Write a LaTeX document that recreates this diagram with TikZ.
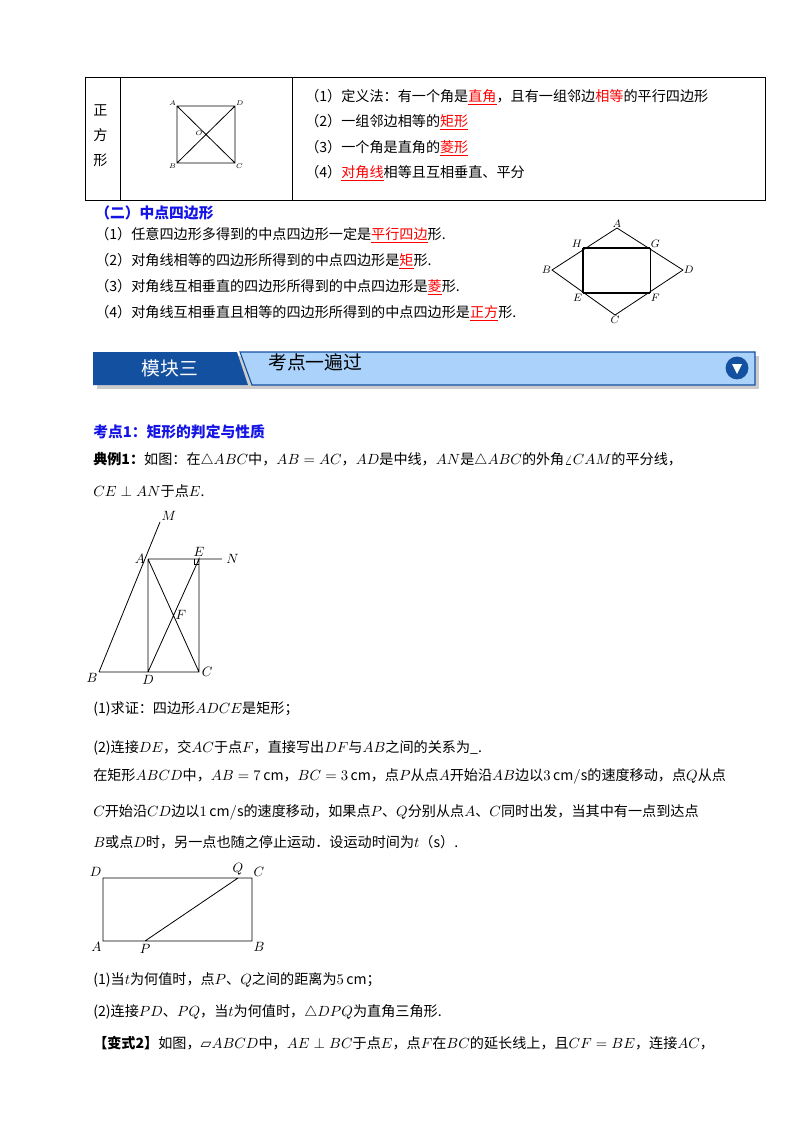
\documentclass[tikz,border=0pt]{standalone}
\usepackage{fontspec}
\setmainfont{Noto Sans CJK SC}
\newfontfamily\symfont{DejaVu Sans}
\usetikzlibrary{positioning,calc}
\definecolor{bandblue}{RGB}{20,80,160}
\definecolor{bandlight}{RGB}{170,210,250}
\definecolor{headblue}{RGB}{20,20,230}
\newcommand{\ru}[1]{\textcolor{red}{\underline{#1}}}
\tikzset{%
  % styles for text lines
   txt/.style = {anchor=west, inner sep=0pt, font=\fontsize{10.5}{12}\selectfont},
   head/.style = {txt, text=headblue, font=\fontsize{11}{13}\selectfont\bfseries},
  % styles for figure labels
   lbl/.style = {inner sep=1pt, font=\fontsize{10}{12}\selectfont},
   small/.style = {inner sep=0.5pt, font=\fontsize{8}{9}\selectfont},
   tiny/.style = {inner sep=0.5pt, font=\fontsize{5.5}{6}\selectfont},
   fig/.style = {line width=0.6pt},
}
\begin{document}
\begin{tikzpicture}[x=0.744pt, y=-0.744pt]
  \useasboundingbox (0,0) rectangle (800,1132);

  % table row
  \draw[line width=0.6pt] (85,77) rectangle (765,200);
  \draw[line width=0.6pt] (120,77) -- (120,200) (292,77) -- (292,200);
  \node[txt] (z1) at (93,110) {正};
  \node[txt] (z2) at (93,135) {方};
  \node[txt] (z3) at (93,160) {形};
  \coordinate (sA) at (177,106);  \coordinate (sD) at (235,106);
  \coordinate (sB) at (177,163);  \coordinate (sC) at (235,163);
  \draw[fig] (sA) -- (sD) -- (sC) -- (sB) -- cycle (sA) -- (sC) (sD) -- (sB);
  \node[tiny, above left=0pt of sA] {$A$};
  \node[tiny, above right=0pt of sD] {$D$};
  \node[tiny, below left=0pt of sB] {$B$};
  \node[tiny, below right=0pt of sC] {$C$};
  \node[tiny] at (199,133) {$O$};
  \node[txt] (r1) at (305,97) {（1）定义法：有一个角是\ru{直角}，且有一组邻边\textcolor{red}{相等}的平行四边形};
  \node[txt] (r2) at (305,122) {（2）一组邻边相等的\ru{矩形}};
  \node[txt] (r3) at (305,148) {（3）一个角是直角的\ru{菱形}};
  \node[txt] (r4) at (305,173) {（4）\ru{对角线}相等且互相垂直、平分};

  % midpoint quadrilateral
  \node[head] (h2) at (95,213) {（二）中点四边形};
  \node[txt] (m1) at (95,235) {（1）任意四边形多得到的中点四边形一定是\ru{平行四边}形.};
  \node[txt] (m2) at (95,261) {（2）对角线相等的四边形所得到的中点四边形是\ru{矩}形.};
  \node[txt] (m3) at (95,287) {（3）对角线互相垂直的四边形所得到的中点四边形是\ru{菱}形.};
  \node[txt] (m4) at (95,313) {（4）对角线互相垂直且相等的四边形所得到的中点四边形是\ru{正方}形.};
  \coordinate (qA) at (617,228); \coordinate (qB) at (552,270);
  \coordinate (qC) at (615,315); \coordinate (qD) at (683,270);
  \coordinate (qH) at (583,248); \coordinate (qG) at (650,248);
  \coordinate (qE) at (583,293); \coordinate (qF) at (650,293);
  \draw[fig] (qA) -- (qD) -- (qC) -- (qB) -- cycle;
  \draw[line width=0.9pt] (qH) -- (qG) (qE) -- (qF) (qH) -- (qE);
  \draw[fig] (qG) -- (qF);
  \node[small, above=0pt of qA] {$A$};
  \node[small, left=0pt of qB] {$B$};
  \node[small, below=0pt of qC] {$C$};
  \node[small, right=0pt of qD] {$D$};
  \node[small, above left=0pt of qH] {$H$};
  \node[small, above right=0pt of qG] {$G$};
  \node[small, below left=0pt of qE] {$E$};
  \node[small, below right=0pt of qF] {$F$};

  % banner
  \fill[gray!40] (97,356) -- (759,356) -- (759,389) -- (97,389) -- cycle;
  \fill[bandlight] (240,352) -- (755,352) -- (755,385) -- (252,385) -- cycle;
  \draw[bandblue, line width=0.8pt] (240,352) -- (755,352) -- (755,385) -- (252,385) -- cycle;
  \fill[bandblue] (93,352) -- (237,352) -- (248,385) -- (93,385) -- cycle;
  \node[inner sep=0pt, text=white, font=\fontsize{14}{16}\selectfont] (mk) at (170,368) {模块三};
  \node[txt, font=\fontsize{14}{16}\selectfont] (kd) at (268,362) {考点一遍过};
  \node[circle, fill=bandblue, minimum size=17pt, inner sep=0pt] (ic) at (737,368) {};
  \fill[white] ($(ic)+(-5,-4)$) -- ($(ic)+(5,-4)$) -- ($(ic)+(0,6)$) -- cycle;

  % example 1
  \node[head] (k1) at (93,432) {考点1：矩形的判定与性质};
  \node[txt] (e1) at (93,460) {\textbf{典例1：}如图：在$\triangle ABC$中，$AB=AC$，$AD$是中线，$AN$是$\triangle ABC$的外角$\angle CAM$的平分线，};
  \node[txt] (e2) at (93,491) {$CE\perp AN$于点$E$.};
  \coordinate (tA) at (148,559); \coordinate (tM) at (160,522);
  \coordinate (tE) at (199,559); \coordinate (tN) at (222,559);
  \coordinate (tB) at (99,672);  \coordinate (tD) at (148,672);
  \coordinate (tC) at (199,672); \coordinate (tF) at (174,615);
  \draw[fig] (tB) -- (tM) (tA) -- (tN) (tA) -- (tD) (tA) -- (tC)
             (tD) -- (tE) -- (tC) -- (tB);
  \draw[fig] ($(tE)+(-5,0)$) -- ++(0,5) -- ++(5,0);
  \node[lbl, above right=0pt and 0pt of tM] {$M$};
  \node[lbl, left=1pt of tA] {$A$};
  \node[lbl, above=1pt of tE] {$E$};
  \node[lbl, right=2pt of tN] {$N$};
  \node[lbl, right=0pt of tF] {$F$};
  \node[lbl, below left=0pt of tB] {$B$};
  \node[lbl, below=1pt of tD] {$D$};
  \node[lbl, right=1pt of tC] {$C$};
  \node[txt] (q1) at (93,709) {(1)求证：四边形$ADCE$是矩形；};
  \node[txt] (q2) at (93,748) {(2)连接$DE$，交$AC$于点$F$，直接写出$DF$与$AB$之间的关系为\_.};
  \node[txt] (p1) at (93,776) {在矩形$ABCD$中，$AB=7\,\mathrm{cm}$，$BC=3\,\mathrm{cm}$，点$P$从点$A$开始沿$AB$边以$3\,\mathrm{cm/s}$的速度移动，点$Q$从点};
  \node[txt] (p2) at (93,812) {$C$开始沿$CD$边以$1\,\mathrm{cm/s}$的速度移动，如果点$P$、$Q$分别从点$A$、$C$同时出发，当其中有一点到达点};
  \node[txt] (p3) at (93,842) {$B$或点$D$时，另一点也随之停止运动．设运动时间为$t$（s）.};
  \coordinate (rD) at (103,878); \coordinate (rC) at (252,878);
  \coordinate (rA) at (103,941); \coordinate (rB) at (252,941);
  \coordinate (rQ) at (238,878); \coordinate (rP) at (145,941);
  \draw[fig] (rA) -- (rB) -- (rC) -- (rD) -- cycle (rP) -- (rQ);
  \node[lbl, above left=0pt and 0pt of rD] {$D$};
  \node[lbl, above=1pt of rQ] {$Q$};
  \node[lbl, above right=0pt and 0pt of rC] {$C$};
  \node[lbl, below left=0pt and 0pt of rA] {$A$};
  \node[lbl, below=1pt of rP] {$P$};
  \node[lbl, below right=0pt and 0pt of rB] {$B$};
  \node[txt] (q3) at (93,980) {(1)当$t$为何值时，点$P$、$Q$之间的距离为$5\,\mathrm{cm}$；};
  \node[txt] (q4) at (93,1012) {(2)连接$PD$、$PQ$，当$t$为何值时，$\triangle DPQ$为直角三角形.};
  \node[txt] (v2) at (93,1043) {\textbf{【变式2】}如图，{\symfont ▱}$ABCD$中，$AE\perp BC$于点$E$，点$F$在$BC$的延长线上，且$CF=BE$，连接$AC$，};
\end{tikzpicture}
\end{document}
